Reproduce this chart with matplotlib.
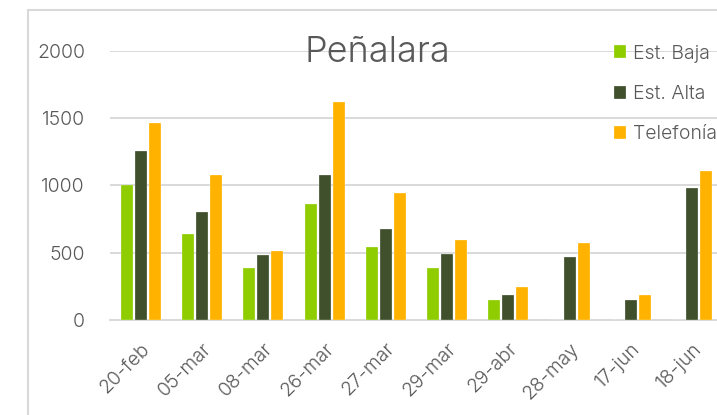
import numpy as np
import matplotlib
matplotlib.use("Agg")
from matplotlib import pyplot as plt
from matplotlib.patches import Rectangle

fechas = ["20-feb", "05-mar", "08-mar", "26-mar", "27-mar", "29-mar",
          "29-abr", "28-may", "17-jun", "18-jun"]
est_baja = [1000, 642, 384, 862, 540, 387, 149, 0, 0, 0]
est_alta = [1256, 803, 483, 1078, 679, 491, 188, 471, 149, 979]
telefonia = [1465, 1076, 511, 1623, 946, 595, 245, 572, 186, 1108]

series = ["Est. Baja", "Est. Alta", "Telefonía"]
colores = ["#8fcc00", "#40502d", "#ffb300"]
gris = "#595959"

plt.rcParams["font.family"] = ["Inter", "DejaVu Sans"]
plt.rcParams["font.weight"] = 300

W, H = 717, 415
fig = plt.figure(figsize=(W / 100, H / 100), dpi=100)
ax = fig.add_axes([110 / W, (H - 320) / H, (723 - 110) / W, (320 - 51) / H])

x = np.arange(len(fechas))
paso = 0.228
ancho = 0.195
for i, (vals, col, lab) in enumerate(zip([est_baja, est_alta, telefonia], colores, series)):
    ax.bar(x + (i - 1) * paso, vals, width=ancho, color=col, label=lab,
           edgecolor="white", linewidth=0.2, zorder=3)

ax.set_xlim(-0.5, len(fechas) - 0.5)
ax.set_ylim(0, 2000)
ax.set_yticks([0, 500, 1000, 1500, 2000])
ax.grid(axis="y", color="#d9d9d9", linewidth=1.4, zorder=0)
for s in ["left", "right", "top"]:
    ax.spines[s].set_visible(False)
ax.spines["bottom"].set_color("#d9d9d9")
ax.spines["bottom"].set_linewidth(1.4)
ax.tick_params(axis="y", length=0, pad=18, labelsize=14, labelcolor=gris)
ax.tick_params(axis="x", length=0, pad=14, labelsize=14, labelcolor=gris)
ax.set_xticks(x)
ax.set_xticklabels(fechas, rotation=45, ha="right", rotation_mode="anchor")

fig.text(377 / W, 1 - 52 / H, "Peñalara", ha="center", va="center",
         fontsize=26, color=gris, fontweight=300)

ax.legend(loc="upper left", bbox_to_anchor=(604 / W, 1 - 35 / H),
          bbox_transform=fig.transFigure, frameon=False, fontsize=14,
          labelcolor=gris, handlelength=0.65, handleheight=0.65,
          handletextpad=0.35, labelspacing=1.15, borderpad=0)

fig.patches.append(Rectangle((28 / W, -0.1), 2, (H - 10) / H + 0.1,
                             transform=fig.transFigure, fill=False,
                             edgecolor="#d9d9d9", linewidth=1.5))

fig.savefig("out.png", dpi=100)
